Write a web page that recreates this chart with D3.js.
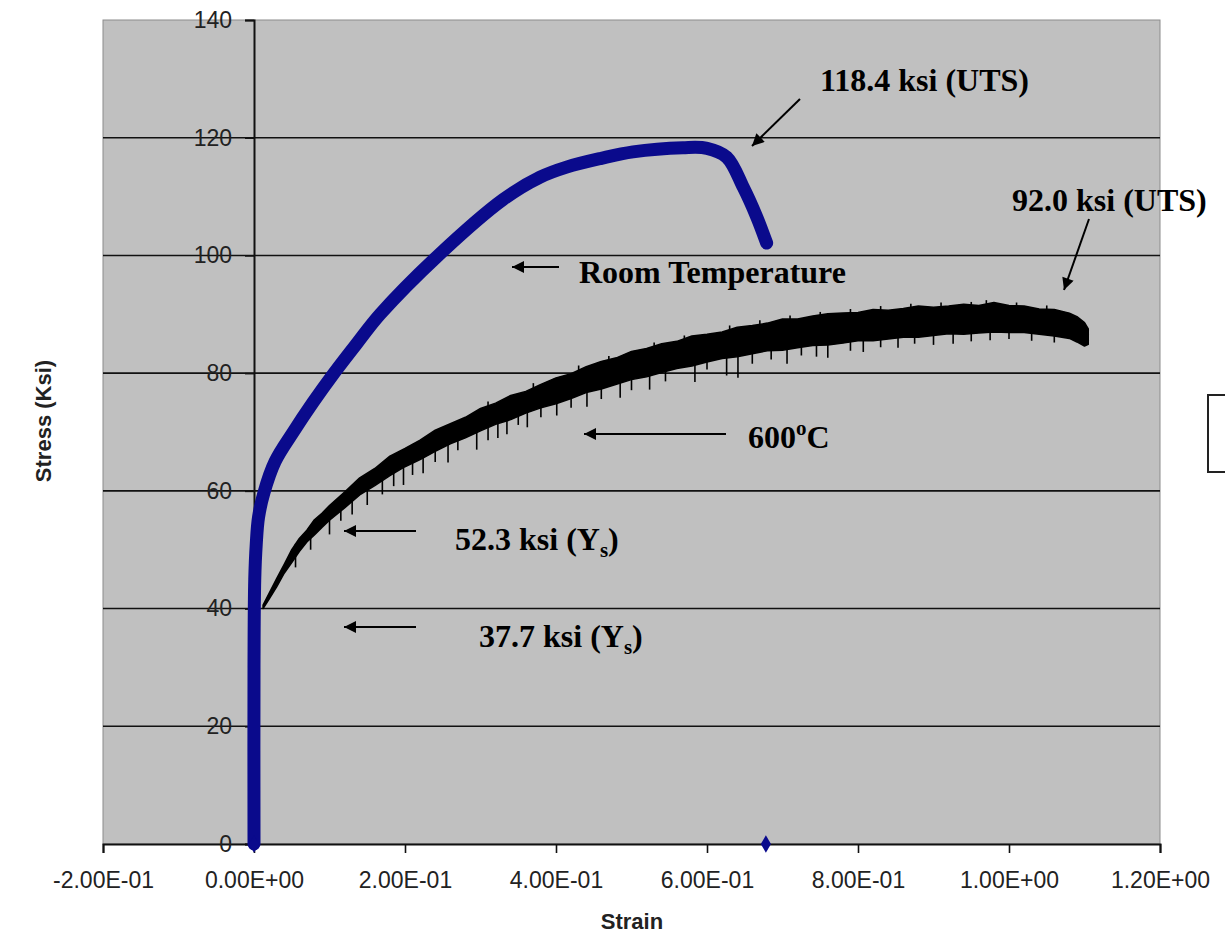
<!DOCTYPE html>
<html>
<head>
<meta charset="utf-8">
<script src="https://cdn.jsdelivr.net/npm/d3@7"></script>
<style>
  html, body { margin: 0; padding: 0; background: #fff; }
  svg { display: block; }
</style>
</head>
<body>
<svg id="chart" width="1225" height="940"></svg>
<script>
// ---------- data ----------
const xTicks = [-0.2, 0, 0.2, 0.4, 0.6, 0.8, 1.0, 1.2];
const xTickLabels = ["-2.00E-01", "0.00E+00", "2.00E-01", "4.00E-01", "6.00E-01", "8.00E-01", "1.00E+00", "1.20E+00"];
const yTicks = [0, 20, 40, 60, 80, 100, 120, 140];
const yTickLabels = ["0", "20", "40", "60", "80", "100", "120", "140"];

// Room temperature curve (strain, ksi)
const roomStrain = [0, 0.000, 0.001, 0.003, 0.006, 0.013, 0.028, 0.052, 0.078, 0.106, 0.136, 0.167, 0.244, 0.33, 0.379, 0.414, 0.46, 0.502, 0.568, 0.6, 0.626, 0.648, 0.666, 0.679];
const roomStress = [0, 30, 45, 51, 55.5, 59.6, 65.0, 70, 75, 80, 85, 90, 100, 109.5, 113.3, 115.0, 116.5, 117.6, 118.3, 118.2, 116.7, 111.6, 106.5, 102.1];
// isolated point of the room temperature series
const roomExtraStrain = [0.678];
const roomExtraStress = [0];

// 600 C curve: solid band upper / lower envelope (strain, ksi)
const hotStrain = [0.012, 0.02, 0.03, 0.04, 0.05, 0.06, 0.07, 0.08, 0.09, 0.10, 0.12, 0.14, 0.16, 0.18, 0.20, 0.22, 0.24, 0.26, 0.28, 0.30, 0.32, 0.34, 0.36, 0.38, 0.40, 0.42, 0.44, 0.46, 0.48, 0.50, 0.52, 0.54, 0.56, 0.58, 0.60, 0.62, 0.64, 0.66, 0.68, 0.70, 0.72, 0.74, 0.76, 0.78, 0.80, 0.82, 0.84, 0.86, 0.88, 0.90, 0.92, 0.94, 0.96, 0.98, 1.00, 1.02, 1.04, 1.06, 1.08, 1.09, 1.10, 1.105];
const hotUpper = [40.6, 42.6, 45.1, 47.5, 50.0, 51.9, 53.3, 55.1, 56.2, 57.5, 59.8, 62.2, 63.8, 65.9, 67.2, 68.6, 70.3, 71.4, 72.5, 74.0, 74.9, 76.2, 76.9, 78.1, 79.2, 79.9, 81.1, 82.0, 82.6, 83.7, 84.2, 85.0, 85.4, 86.3, 86.6, 87.0, 87.8, 88.1, 88.5, 89.2, 89.2, 89.7, 90.1, 90.2, 90.3, 90.8, 90.7, 91.0, 91.4, 91.2, 91.4, 91.7, 91.5, 92.0, 91.5, 91.4, 90.9, 90.8, 90.2, 89.6, 88.6, 87.5];
const hotLower = [40.0, 41.6, 43.7, 46.0, 47.8, 49.7, 51.3, 52.5, 53.8, 55.0, 57.1, 59.3, 60.9, 62.6, 64.1, 65.3, 66.7, 68.0, 69.0, 70.2, 71.3, 72.1, 73.2, 74.1, 74.8, 75.7, 76.7, 77.3, 78.1, 78.9, 79.4, 80.1, 80.8, 81.2, 81.9, 82.5, 82.8, 83.3, 83.8, 83.9, 84.3, 84.7, 84.8, 85.1, 85.5, 85.5, 85.8, 86.1, 86.1, 86.4, 86.7, 86.6, 86.8, 87.0, 86.9, 86.9, 86.6, 86.3, 85.9, 85.3, 84.6, 84.9];
// downward noise spikes of the 600 C record (strain, lowest ksi)
const spikeStrain = [0.055, 0.075, 0.10, 0.115, 0.13, 0.15, 0.17, 0.185, 0.198, 0.21, 0.224, 0.24, 0.257, 0.27, 0.295, 0.31, 0.323, 0.335, 0.35, 0.362, 0.38, 0.401, 0.42, 0.441, 0.46, 0.485, 0.50, 0.524, 0.545, 0.584, 0.60, 0.626, 0.641, 0.66, 0.685, 0.706, 0.725, 0.745, 0.76, 0.79, 0.807, 0.83, 0.853, 0.875, 0.90, 0.926, 0.95, 0.975, 1.0, 1.03, 1.06];
const spikeStress = [47.0, 50.0, 52.6, 54.9, 56.0, 57.6, 59.4, 60.8, 61.0, 62.7, 63.0, 64.9, 64.8, 66.9, 67.0, 68.6, 69.0, 69.6, 71.2, 70.8, 72.5, 72.8, 74.1, 74.3, 75.6, 75.8, 77.1, 77.2, 78.6, 78.5, 80.6, 79.6, 79.2, 81.6, 82.3, 81.6, 83.0, 82.8, 82.6, 83.8, 83.6, 84.4, 84.3, 85.0, 84.8, 85.0, 85.4, 85.6, 85.8, 85.5, 85.2];
// small upward noise spikes (strain, highest ksi)
const upSpikeStrain = [0.31, 0.37, 0.43, 0.47, 0.53, 0.57, 0.63, 0.67, 0.71, 0.75, 0.79, 0.83, 0.87, 0.91, 0.95, 0.97, 1.01, 1.05];
const upSpikeStress = [75.2, 78.3, 81.3, 82.9, 85.2, 86.4, 88.1, 89.0, 89.8, 90.4, 90.9, 91.4, 91.8, 92.0, 92.1, 92.4, 92.0, 91.5];

// ---------- layout ----------
const svg = d3.select("#chart");
const plot = { left: 103, right: 1160, top: 20, bottom: 844 };
const x = d3.scaleLinear().domain([-0.2, 1.2]).range([plot.left, plot.right]);
const y = d3.scaleLinear().domain([0, 140]).range([plot.bottom, plot.top]);

// plot area
svg.append("rect")
  .attr("x", plot.left).attr("y", plot.top)
  .attr("width", plot.right - plot.left).attr("height", plot.bottom - plot.top)
  .attr("fill", "#c0c0c0").attr("stroke", "#8c8c8c").attr("stroke-width", 1);

// gridlines
svg.append("g").selectAll("line")
  .data(yTicks.filter(d => d > 0 && d < 140))
  .join("line")
  .attr("x1", plot.left).attr("x2", plot.right)
  .attr("y1", d => y(d)).attr("y2", d => y(d))
  .attr("stroke", "#111").attr("stroke-width", 1.6);

// x axis at y = 0
const xAxis = d3.axisBottom(x).tickValues(xTicks).tickSize(9)
  .tickFormat((d, i) => xTickLabels[i]);
const gx = svg.append("g").attr("transform", `translate(0,${y(0)})`).call(xAxis);
gx.select(".domain").attr("stroke", "#111").attr("stroke-width", 2);
gx.selectAll(".tick line").attr("stroke", "#111").attr("stroke-width", 1.6);
gx.selectAll(".tick text")
  .attr("font-family", "Arial, 'Liberation Sans', sans-serif")
  .attr("font-size", 23).attr("fill", "#222").attr("y", 28).attr("dy", "0.71em");

// y axis at x = 0
const yAxis = d3.axisLeft(y).tickValues(yTicks).tickSize(9)
  .tickFormat((d, i) => yTickLabels[i]);
const gy = svg.append("g").attr("transform", `translate(${x(0)},0)`).call(yAxis);
gy.select(".domain").attr("stroke", "#111").attr("stroke-width", 2);
gy.selectAll(".tick line").attr("stroke", "#111").attr("stroke-width", 1.6);
gy.selectAll(".tick text")
  .attr("font-family", "Arial, 'Liberation Sans', sans-serif")
  .attr("font-size", 23).attr("fill", "#222").attr("x", -22);

// axis titles
svg.append("text")
  .attr("x", 632).attr("y", 929).attr("text-anchor", "middle")
  .attr("font-family", "Arial, 'Liberation Sans', sans-serif")
  .attr("font-weight", "bold").attr("font-size", 22).attr("fill", "#222")
  .text("Strain");
svg.append("text")
  .attr("transform", "translate(51,421) rotate(-90)")
  .attr("text-anchor", "middle")
  .attr("font-family", "Arial, 'Liberation Sans', sans-serif")
  .attr("font-weight", "bold").attr("font-size", 22).attr("fill", "#222")
  .text("Stress (Ksi)");

// ---------- 600 C series ----------
const hotData = hotStrain.map((s, i) => ({ s, hi: hotUpper[i], lo: hotLower[i] }));
svg.append("path")
  .datum(hotData)
  .attr("d", d3.area().x(d => x(d.s)).y0(d => y(d.lo)).y1(d => y(d.hi)))
  .attr("fill", "#000").attr("stroke", "#000").attr("stroke-width", 1.5)
  .attr("stroke-linejoin", "round");
svg.append("g").selectAll("line")
  .data(spikeStrain.map((s, i) => ({ s, v: spikeStress[i] })))
  .join("line")
  .attr("x1", d => x(d.s)).attr("x2", d => x(d.s))
  .attr("y1", d => y(d.v)).attr("y2", d => y(d.v + 4))
  .attr("stroke", "#000").attr("stroke-width", 1.6);
svg.append("g").selectAll("line")
  .data(upSpikeStrain.map((s, i) => ({ s, v: upSpikeStress[i] })))
  .join("line")
  .attr("x1", d => x(d.s)).attr("x2", d => x(d.s))
  .attr("y1", d => y(d.v)).attr("y2", d => y(d.v - 2))
  .attr("stroke", "#000").attr("stroke-width", 1.6);

// ---------- room temperature series ----------
const roomData = roomStrain.map((s, i) => ({ s, v: roomStress[i] }));
svg.append("path")
  .datum(roomData)
  .attr("d", d3.line().x(d => x(d.s)).y(d => y(d.v)).curve(d3.curveCatmullRom.alpha(0.5)))
  .attr("fill", "none").attr("stroke", "#0a0a8c").attr("stroke-width", 13)
  .attr("stroke-linecap", "round").attr("stroke-linejoin", "round");
const diamond = d3.symbol().type(d3.symbolDiamond).size(90);
svg.append("g").selectAll("path")
  .data([{ s: 0, v: 0 }].concat(roomExtraStrain.map((s, i) => ({ s, v: roomExtraStress[i] }))))
  .join("path")
  .attr("transform", d => `translate(${x(d.s)},${y(d.v)})`)
  .attr("d", diamond).attr("fill", "#0a0a8c");

// ---------- annotations ----------
svg.append("defs").append("marker")
  .attr("id", "head").attr("viewBox", "0 0 10 10").attr("refX", 10).attr("refY", 5)
  .attr("markerUnits", "userSpaceOnUse").attr("markerWidth", 16).attr("markerHeight", 12)
  .attr("orient", "auto")
  .append("path").attr("d", "M0,0 L10,5 L0,10 Z").attr("fill", "#000");

const arrows = [
  [800, 99, 752, 146],
  [1089, 219, 1064, 290],
  [559, 267, 512, 267],
  [726, 434, 584, 434],
  [416, 531, 344, 531],
  [416, 627, 344, 627]
];
svg.append("g").selectAll("line").data(arrows).join("line")
  .attr("x1", d => d[0]).attr("y1", d => d[1]).attr("x2", d => d[2]).attr("y2", d => d[3])
  .attr("stroke", "#000").attr("stroke-width", 2).attr("marker-end", "url(#head)");

const serif = "'Times New Roman', 'Liberation Serif', serif";
function label(xp, yp, parts) {
  const t = svg.append("text").attr("x", xp).attr("y", yp)
    .attr("font-family", serif).attr("font-weight", "bold").attr("font-size", 32)
    .attr("fill", "#000");
  parts.forEach(p => {
    const ts = t.append("tspan").text(p.t);
    if (p.sup) ts.attr("font-size", 21).attr("dy", -13);
    if (p.sub) ts.attr("font-size", 21).attr("dy", 7);
    if (p.back) ts.attr("dy", p.back);
  });
}
label(820, 91, [{ t: "118.4 ksi (UTS)" }]);
label(1012, 211, [{ t: "92.0 ksi (UTS)" }]);
label(579, 283, [{ t: "Room Temperature" }]);
label(748, 448, [{ t: "600" }, { t: "o", sup: true }, { t: "C", back: 13 }]);
label(455, 550, [{ t: "52.3 ksi (Y" }, { t: "s", sub: true }, { t: ")", back: -7 }]);
label(479, 647, [{ t: "37.7 ksi (Y" }, { t: "s", sub: true }, { t: ")", back: -7 }]);

// partially visible legend box at the right edge
svg.append("rect").attr("x", 1208).attr("y", 395).attr("width", 40).attr("height", 77)
  .attr("fill", "#fff").attr("stroke", "#222").attr("stroke-width", 2);
</script>
</body>
</html>
